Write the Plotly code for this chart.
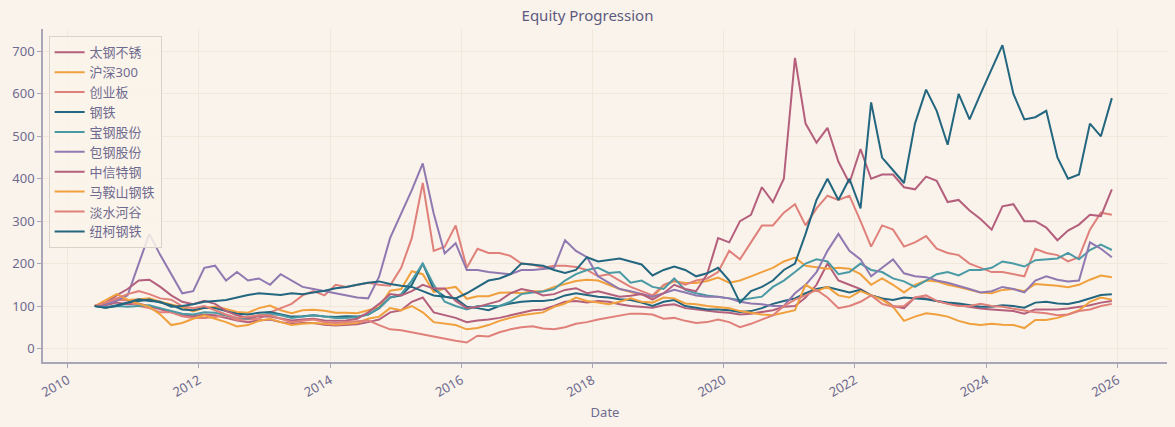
import pandas as pd
import plotly.graph_objects as go

# bi-monthly observation dates (Jun 2010 .. Dec 2025)
dates = pd.date_range("2010-06-01", "2025-12-01", freq="2MS")

names = ["太钢不锈", "沪深300", "创业板", "钢铁", "宝钢股份", "包钢股份",
         "中信特钢", "马鞍山钢铁", "淡水河谷", "纽柯钢铁"]

taigang = [100, 102, 108, 104,
           106, 100, 92, 85, 78, 76,
           80, 78, 72, 66, 62, 66,
           68, 62, 58, 60, 60, 56,
           54, 55, 57, 62, 68, 85,
           90, 110, 120, 85, 78, 72,
           62, 66, 68, 72, 78, 84,
           90, 92, 100, 110, 112, 108,
           112, 110, 104, 100, 98, 96,
           102, 104, 95, 92, 88, 86,
           84, 80, 82, 86, 90, 98,
           100, 120, 150, 200, 160, 150,
           140, 125, 118, 100, 95, 120,
           118, 112, 106, 102, 98, 94,
           92, 90, 88, 82, 92, 92,
           92, 94, 98, 102, 108, 112]

hs300 = [100, 107, 118, 114,
         116, 118, 110, 103, 97, 87,
         96, 98, 93, 86, 84, 95,
         101, 90, 83, 90, 91, 89,
         84, 84, 83, 90, 97, 136,
         140, 182, 175, 133, 141, 145,
         117, 123, 123, 131, 132, 130,
         135, 135, 145, 152, 159, 162,
         160, 150, 140, 133, 127, 121,
         148, 158, 154, 154, 159, 167,
         155, 160, 170, 180, 190, 205,
         214, 195, 192, 188, 190, 188,
         175, 150, 165, 150, 132, 150,
         160, 158, 150, 145, 138, 132,
         130, 138, 140, 135, 152, 150,
         148, 144, 150, 162, 172, 168]

chinext = [100, 108, 115, 113,
           100, 95, 85, 85, 76, 72,
           72, 74, 78, 67, 69, 70,
           85, 95, 105, 125, 135, 125,
           150, 145, 150, 155, 150, 148,
           190, 260, 390, 230, 240, 290,
           190, 235, 225, 225, 218, 200,
           198, 190, 195, 195, 192, 185,
           170, 175, 160, 145, 135, 125,
           150, 160, 150, 160, 165, 180,
           230, 210, 250, 290, 290, 320,
           340, 290, 330, 360, 350, 360,
           300, 240, 290, 280, 240, 250,
           265, 235, 225, 220, 200, 190,
           180, 180, 175, 170, 235, 225,
           220, 205, 215, 280, 320, 315]

steel = [100, 96, 102, 108,
         112, 115, 108, 102, 92, 90,
         96, 95, 88, 82, 80, 84,
         86, 80, 75, 76, 78, 75,
         74, 76, 75, 80, 95, 120,
         125, 150, 200, 140, 122, 118,
         98, 95, 90, 100, 106, 110,
         112, 112, 115, 125, 130, 126,
         122, 120, 116, 114, 108, 100,
         110, 114, 100, 96, 92, 92,
         90, 86, 88, 95, 105, 112,
         118, 130, 140, 145, 138, 132,
         138, 125, 118, 114, 120, 118,
         116, 112, 108, 106, 102, 98,
         98, 102, 100, 96, 108, 110,
         106, 105, 110, 118, 126, 128]

baosteel = [100, 97, 100, 98,
            100, 102, 95, 88, 82, 80,
            85, 84, 78, 72, 70, 78,
            82, 78, 72, 75, 78, 75,
            72, 72, 74, 80, 95, 120,
            128, 160, 200, 150, 110, 100,
            92, 100, 100, 100, 110, 128,
            132, 134, 140, 160, 175, 185,
            190, 178, 180, 155, 160, 145,
            140, 165, 138, 130, 125, 122,
            118, 114, 118, 122, 145, 160,
            180, 200, 210, 205, 175, 180,
            200, 185, 180, 165, 158, 145,
            160, 175, 180, 172, 185, 185,
            190, 205, 200, 193, 208, 210,
            212, 225, 210, 232, 245, 232]

baotou = [100, 104, 112, 125,
          200, 270, 220, 175, 130, 135,
          190, 195, 160, 180, 160, 165,
          150, 175, 160, 145, 140, 135,
          130, 125, 120, 118, 169, 260,
          318, 373, 436, 318, 224, 248,
          185, 185, 180, 177, 175, 185,
          185, 187, 190, 255, 230, 215,
          170, 155, 140, 135, 128, 122,
          130, 138, 132, 125, 122, 122,
          118, 110, 106, 104, 100, 100,
          130, 150, 180, 230, 270, 230,
          210, 170, 190, 210, 177, 170,
          168, 160, 155, 148, 140, 132,
          135, 145, 140, 132, 160, 170,
          162, 158, 160, 250, 235, 215]

citic = [100, 108, 125, 140,
         160, 162, 145, 125, 110, 104,
         112, 105, 88, 78, 72, 76,
         75, 70, 66, 68, 70, 66,
         65, 66, 70, 85, 105, 128,
         125, 135, 150, 141, 141, 112,
         95, 98, 105, 112, 130, 140,
         135, 125, 128, 138, 142, 130,
         135, 128, 122, 124, 128, 115,
         130, 150, 140, 135, 175, 260,
         250, 300, 315, 380, 345, 400,
         685, 530, 485, 520, 440, 390,
         470, 400, 410, 410, 380, 375,
         405, 395, 345, 350, 325, 305,
         280, 335, 340, 300, 300, 285,
         255, 278, 292, 315, 312, 375]

maanshan = [100, 115, 128, 115,
            105, 98, 80, 55, 60, 70,
            78, 70, 62, 52, 55, 65,
            70, 62, 55, 58, 60, 58,
            56, 58, 60, 70, 75, 95,
            90, 100, 85, 62, 58, 55,
            45, 48, 55, 65, 72, 78,
            82, 85, 98, 106, 120, 112,
            108, 104, 110, 118, 110, 108,
            120, 118, 106, 104, 100, 98,
            95, 88, 84, 80, 78, 84,
            90, 150, 135, 145, 125, 120,
            135, 125, 115, 98, 65, 75,
            83, 80, 75, 65, 58, 55,
            58, 56, 55, 48, 67, 67,
            72, 80, 90, 110, 120, 115]

vale = [100, 108, 118, 128,
        135, 128, 118, 115, 100, 95,
        100, 90, 80, 72, 75, 78,
        78, 70, 62, 65, 68, 62,
        60, 62, 64, 66, 55, 45,
        43, 38, 33, 27, 22, 18,
        14, 30, 28, 38, 45, 50,
        52, 47, 45, 50, 58, 62,
        68, 73, 78, 82, 82, 80,
        70, 72, 65, 60, 62, 68,
        62, 50, 58, 68, 78, 100,
        115, 125, 138, 120, 95, 100,
        110, 125, 105, 98, 100, 120,
        125, 112, 105, 100, 100, 105,
        100, 98, 94, 90, 85, 83,
        78, 80, 88, 92, 100, 105]

nucor = [100, 96, 100, 108,
         116, 112, 110, 98, 100, 104,
         110, 112, 114, 120, 126, 130,
         128, 126, 130, 128, 132, 136,
         142, 145, 150, 155, 158, 152,
         148, 145, 135, 125, 122, 118,
         130, 145, 160, 165, 175, 200,
         198, 195, 185, 178, 185, 215,
         205, 208, 212, 205, 198, 172,
         185, 193, 185, 170, 177, 190,
         160, 108, 135, 145, 160, 185,
         200, 270, 350, 400, 350, 400,
         330, 580, 450, 420, 390, 530,
         610, 560, 480, 600, 540, 600,
         660, 715, 600, 540, 545, 560,
         450, 400, 410, 530, 500, 590]

series = [taigang, hs300, chinext, steel, baosteel, baotou,
          citic, maanshan, vale, nucor]

colors = ["#b45f7c", "#f0a03c", "#e0807a", "#23667f", "#4a9aa5", "#9078b0",
          "#b45f7c", "#f0a03c", "#e0807a", "#23667f"]

TICK = "#6f6b8f"
GRID = "#f1e7da"
AXIS = "#aaa6ba"
BG = "#faf3eb"

fig = go.Figure()
for name, vals, col in zip(names, series, colors):
    fig.add_trace(go.Scatter(x=dates, y=vals, name=name, mode="lines",
                             line=dict(color=col, width=2)))

fig.update_layout(
    width=1175, height=427,
    paper_bgcolor=BG, plot_bgcolor=BG,
    margin=dict(l=43, r=8, t=29, b=65),
    font=dict(family="Noto Sans, Noto Sans CJK SC, sans-serif", size=13, color=TICK),
    title=dict(text="Equity Progression", x=0.5, xanchor="center",
               y=0.962, yanchor="middle",
               font=dict(size=15, color="#5c5a80")),
    legend=dict(x=0.005, y=0.978, xanchor="left", yanchor="top",
                bgcolor="rgba(250,243,235,0.85)", bordercolor="#d9d2cc",
                borderwidth=1, font=dict(size=13, color=TICK),
                itemwidth=30, tracegroupgap=0),
    showlegend=True,
)
fig.update_xaxes(
    range=["2009-08-17", "2026-10-04"], type="date",
    tick0="2010-01-01", dtick="M24", tickformat="%Y", tickangle=-30,
    showgrid=True, gridcolor=GRID, gridwidth=1,
    showline=True, linecolor=AXIS, linewidth=1.5,
    ticks="outside", ticklen=4, tickcolor=AXIS,
    tickfont=dict(size=13, color=TICK),
    title=dict(text="Date", font=dict(size=13, color=TICK), standoff=8),
    zeroline=False,
)
fig.update_yaxes(
    range=[-32, 753], dtick=100, tick0=0,
    showgrid=True, gridcolor=GRID, gridwidth=1,
    showline=True, linecolor=AXIS, linewidth=1.5,
    ticks="outside", ticklen=4, tickcolor=AXIS,
    tickfont=dict(size=13, color=TICK),
    zeroline=False,
)

fig.write_html(
    "out.html",
    config={"displayModeBar": False},
    post_script="document.body.style.margin='0';"
                "document.body.style.background='#faf3eb';"
                "document.body.style.overflow='hidden';",
)
